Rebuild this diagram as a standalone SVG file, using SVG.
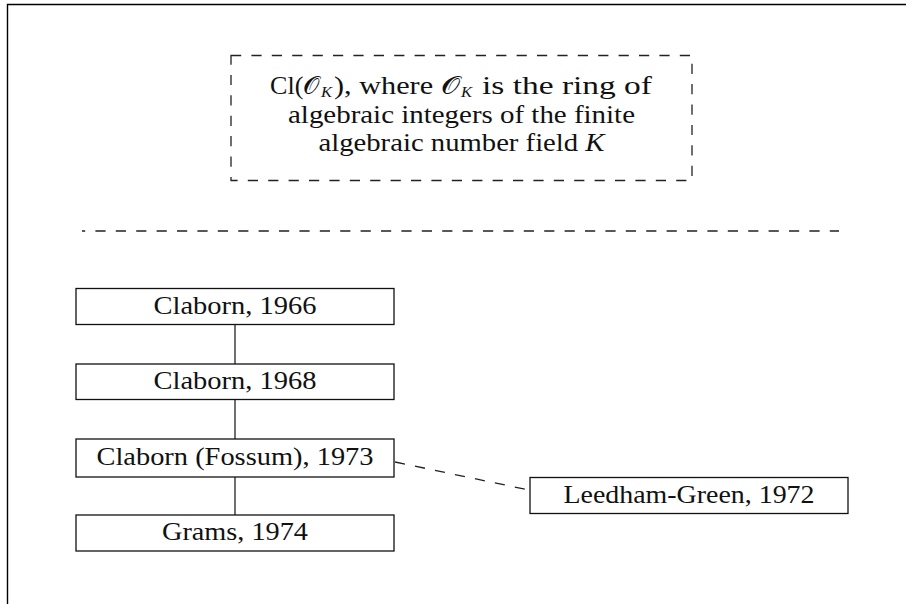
<svg xmlns="http://www.w3.org/2000/svg" width="906" height="604" viewBox="0 0 906 604">
  <style>
    text { font-family: "Liberation Serif", "DejaVu Serif", serif; font-size: 25px; fill: #111; }
    .box { fill: #fff; stroke: #111; stroke-width: 1.3; }
    .frame { fill: none; stroke: #000; stroke-width: 1.4; }
    .solid { stroke: #222; stroke-width: 1.3; fill: none; }
    .dash { stroke: #222; stroke-width: 1.3; fill: none; stroke-dasharray: 10.2 10.2; }
    .it { font-style: italic; }
    .sub { font-style: italic; font-size: 15px; }
  </style>

  <!-- outer frame (top and left edges) -->
  <path class="frame" d="M7.5,604 V4.5 H906"/>

  <!-- legend box with definition; first line set piecewise around the subscripts -->
  <g id="legend">
    <rect x="231" y="55.5" width="461" height="125" fill="none" stroke="#222" stroke-width="1.3" stroke-dasharray="10.2 10.2"/>
    <text x="270" y="94" textLength="50" lengthAdjust="spacingAndGlyphs">Cl(𝒪</text>
    <text class="sub" x="321" y="97" textLength="11" lengthAdjust="spacingAndGlyphs">K</text>
    <text x="334" y="94" textLength="126" lengthAdjust="spacingAndGlyphs">), where 𝒪</text>
    <text class="sub" x="461" y="97" textLength="11" lengthAdjust="spacingAndGlyphs">K</text>
    <text x="482" y="94" textLength="170" lengthAdjust="spacingAndGlyphs">is the ring of</text>
    <text x="461.5" y="123" text-anchor="middle" textLength="347" lengthAdjust="spacingAndGlyphs">algebraic integers of the finite</text>
    <text x="461.5" y="151" text-anchor="middle" textLength="286" lengthAdjust="spacingAndGlyphs">algebraic number field <tspan class="it">K</tspan></text>
  </g>

  <!-- separator -->
  <line class="dash" x1="82" y1="231" x2="839" y2="231" stroke-dashoffset="7"/>

  <!-- connectors -->
  <g id="connectors">
    <line class="solid" x1="235" y1="324" x2="235" y2="364"/>
    <line class="solid" x1="235" y1="399" x2="235" y2="439"/>
    <line class="solid" x1="235" y1="477" x2="235" y2="515"/>
    <line class="dash" x1="395" y1="462" x2="529" y2="490"/>
  </g>

  <g id="claborn1966">
    <rect class="box" x="76" y="288.5" width="318" height="36"/>
    <text x="235" y="314" text-anchor="middle" textLength="163" lengthAdjust="spacingAndGlyphs">Claborn, 1966</text>
  </g>
  <g id="claborn1968">
    <rect class="box" x="76" y="364" width="318" height="35.5"/>
    <text x="235" y="389" text-anchor="middle" textLength="163" lengthAdjust="spacingAndGlyphs">Claborn, 1968</text>
  </g>
  <g id="claborn1973">
    <rect class="box" x="76" y="439" width="318" height="38"/>
    <text x="235" y="465" text-anchor="middle" textLength="277" lengthAdjust="spacingAndGlyphs">Claborn (Fossum), 1973</text>
  </g>
  <g id="grams1974">
    <rect class="box" x="76" y="515" width="318" height="36"/>
    <text x="235" y="540" text-anchor="middle" textLength="146" lengthAdjust="spacingAndGlyphs">Grams, 1974</text>
  </g>
  <g id="leedham1972">
    <rect class="box" x="530" y="477.5" width="318" height="36"/>
    <text x="689" y="503" text-anchor="middle" textLength="251" lengthAdjust="spacingAndGlyphs">Leedham-Green, 1972</text>
  </g>
</svg>
